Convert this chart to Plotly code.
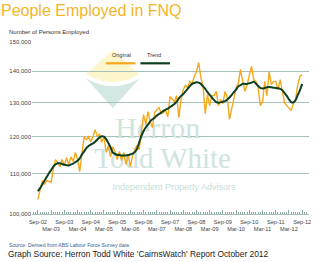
import math
import plotly.graph_objects as go

# ---------------- data ----------------
# monthly observations, Sep-02 (index 0) .. Sep-12 (index 120), thousands of persons
original_k = [
    103.5, 105.9, 108.2, 107.2, 108.2, 108.0, 107.7, 111.1, 113.7, 112.9,
    111.8, 113.7, 112.1, 114.2, 112.4, 114.4, 113.2, 115.6, 113.7, 110.5,
    115.6, 120.0, 119.2, 120.0, 118.6, 120.0, 122.0, 120.0, 120.8, 118.4,
    120.0, 115.6, 117.5, 114.4, 117.2, 115.9, 113.7, 115.9, 113.4, 115.6,
    112.4, 115.1, 111.8, 114.8, 116.4, 117.5, 116.4, 120.6, 126.4, 123.5,
    127.3, 124.4, 122.6, 127.0, 127.9, 128.5, 126.7, 127.0, 127.6, 125.8,
    131.9, 131.0, 130.3, 132.2, 125.5, 131.0, 134.1, 135.4, 134.7, 136.7,
    136.0, 138.3, 139.9, 142.9, 138.0, 135.1, 126.7, 132.5, 129.1, 132.2,
    132.2, 133.5, 129.1, 131.0, 129.7, 133.5, 131.6, 125.0, 128.5, 132.2,
    134.7, 136.0, 140.6, 136.7, 133.5, 135.7, 138.9, 141.6, 137.3, 136.7,
    134.7, 129.1, 130.3, 136.7, 132.2, 139.9, 135.7, 136.7, 136.7, 134.1,
    137.3, 134.1, 130.0, 129.1, 128.2, 127.6, 129.7, 131.0, 135.7, 138.3,
    138.9,
]
trend_k = [
    105.5, 106.3, 107.2, 108.2, 109.1, 110.1, 110.9, 111.8, 112.4, 112.7,
    112.7, 112.5, 112.3, 112.2, 112.1, 112.4, 112.6, 113.0, 113.4, 114.0,
    115.1, 115.9, 116.8, 117.4, 117.8, 118.1, 118.6, 119.2, 119.8, 120.1,
    120.0, 119.3, 118.2, 117.0, 115.6, 115.2, 115.0, 114.9, 114.8, 114.8,
    114.8, 114.9, 115.1, 115.3, 115.7, 116.6, 118.4, 120.2, 121.6, 122.7,
    123.5, 124.4, 125.0, 125.5, 126.1, 126.6, 127.0, 127.5, 127.9, 128.2,
    128.7, 129.1, 129.6, 130.3, 131.3, 132.1, 132.7, 133.5, 134.3, 135.2,
    135.9, 136.2, 136.4, 136.3, 135.9, 135.1, 134.3, 133.3, 132.4, 131.6,
    130.8, 130.2, 130.0, 130.1, 130.3, 130.5, 131.0, 131.6, 132.4, 133.3,
    134.1, 135.1, 135.5, 135.9, 135.9, 135.9, 136.1, 136.3, 136.6, 136.0,
    135.2, 134.6, 134.4, 134.6, 134.8, 134.9, 134.8, 134.7, 134.6, 134.5,
    134.3, 133.9, 133.0, 132.1, 131.0, 130.2, 130.1, 130.8, 132.4, 133.9,
    135.9,
]
month_index = list(range(len(original_k)))
tick_labels = [
    "Sep-02", "Mar-03", "Sep-03", "Mar-04", "Sep-04", "Mar-05", "Sep-05",
    "Mar-06", "Sep-06", "Mar-07", "Sep-07", "Mar-08", "Sep-08", "Mar-09",
    "Sep-09", "Mar-10", "Sep-10", "Mar-11", "Sep-11", "Mar-12", "Sep-12",
]
tick_months = [6 * i for i in range(len(tick_labels))]
y_ticks = [100000, 110000, 120000, 130000, 140000, 150000]
y_tick_text = ["100,000", "110,000", "120,000", "130,000", "140,000", "150,000"]

original = [v * 1000 for v in original_k]
trend = [v * 1000 for v in trend_k]

# ---------------- layout geometry ----------------
W, H = 320, 262
ML, MR, MT, MB = 30, 9, 42, 48
PW, PH = W - ML - MR, H - MT - MB
XR = [-2.68, 123.1]
YR = [5.0, math.log10(150000)]

ORANGE = "#f5a81b"
GREEN = "#0b4020"
GRID = "#a6c1bc"
TEAL_WM = "#cfe4df"


def px(x):  # pixel -> paper x
    return (x - ML) / PW


def py(y):  # pixel -> paper y
    return (H - MB - y) / PH


def dx(x):  # pixel -> data x
    return XR[0] + px(x) * (XR[1] - XR[0])


def dy(y):  # pixel -> data y (log axis)
    return 10 ** (YR[0] + py(y) * (YR[1] - YR[0]))


fig = go.Figure()

# watermark text (drawn first so the series sit on top of it)
fig.add_trace(go.Scatter(
    x=[dx(157.5), dx(162.5)], y=[dy(130), dy(161)],
    text=["Herron", "Todd White"], mode="text",
    textfont=dict(family="Liberation Serif, Times New Roman, serif", size=[30, 29], color=TEAL_WM),
    hoverinfo="skip", showlegend=False,
))
fig.add_trace(go.Scatter(
    x=[dx(174)], y=[dy(188)], text=["Independent Property Advisors"], mode="text",
    textfont=dict(family="Liberation Sans, Arial, sans-serif", size=9, color="#c6ddd8"),
    hoverinfo="skip", showlegend=False,
))

fig.add_trace(go.Scatter(
    x=month_index, y=original, mode="lines", name="Original",
    line=dict(color=ORANGE, width=1.4), showlegend=False,
))
fig.add_trace(go.Scatter(
    x=month_index, y=trend, mode="lines", name="Trend",
    line=dict(color=GREEN, width=2, shape="spline", smoothing=0.6), showlegend=False,
))

shapes = [
    # logo: yellow fan and teal diamond half
    dict(type="path", xref="paper", yref="paper", layer="below", line=dict(width=0),
         fillcolor="#fdf6cc",
         path=f"M{px(112):.5f},{py(50):.5f} L{px(85):.5f},{py(74):.5f} "
              f"Q{px(112):.5f},{py(90):.5f} {px(139):.5f},{py(74):.5f} Z"),
    dict(type="path", xref="paper", yref="paper", layer="below", line=dict(width=0),
         fillcolor="#d3e7e3",
         path=f"M{px(85):.5f},{py(78.5):.5f} Q{px(112):.5f},{py(94):.5f} {px(139):.5f},{py(78.5):.5f} "
              f"L{px(112):.5f},{py(108):.5f} Z"),
    # legend swatches
    dict(type="line", xref="paper", yref="paper", x0=px(105), x1=px(135), y0=py(63.3), y1=py(63.3),
         line=dict(color=ORANGE, width=2.2)),
    dict(type="line", xref="paper", yref="paper", x0=px(140), x1=px(170), y0=py(63.3), y1=py(63.3),
         line=dict(color=GREEN, width=2.2)),
]

annotations = [
    dict(text="Number of Persons Employed", x=px(5), y=py(32), xref="paper", yref="paper",
         showarrow=False, xanchor="left", yanchor="middle", font=dict(size=6, color="#333")),
    dict(text="Original", x=px(121), y=py(54.5), xref="paper", yref="paper", showarrow=False,
         xanchor="center", yanchor="middle", font=dict(size=5.5, color="#333")),
    dict(text="Trend", x=px(153.5), y=py(54.5), xref="paper", yref="paper", showarrow=False,
         xanchor="center", yanchor="middle", font=dict(size=5.5, color="#333")),
    dict(text="Source: Derived from ABS Labour Force Survey data", x=px(5), y=py(245),
         xref="paper", yref="paper", showarrow=False, xanchor="left", yanchor="middle",
         font=dict(size=5.1, color="#2e6296")),
    dict(text="Graph Source: Herron Todd White 'CairnsWatch' Report October 2012", x=px(4), y=py(254),
         xref="paper", yref="paper", showarrow=False, xanchor="left", yanchor="middle",
         font=dict(size=8.4, color="#222")),
]

tick_text = [("<br>" + t) if t.startswith("Mar") else t for t in tick_labels]

fig.update_layout(
    width=W, height=H,
    margin=dict(l=ML, r=MR, t=MT, b=MB, pad=0),
    paper_bgcolor="white", plot_bgcolor="white",
    font=dict(family="Liberation Sans, Arial, sans-serif", size=6, color="#444"),
    title=dict(text="People Employed in FNQ", x=1 / W, xref="container", xanchor="left",
               y=1 - 10.5 / H, yref="container", yanchor="middle",
               font=dict(size=16, color="#f4b52a", family="Liberation Sans, Arial, sans-serif")),
    shapes=shapes, annotations=annotations,
    xaxis=dict(range=XR, tickvals=tick_months, ticktext=tick_text, tickangle=0,
               showgrid=False, zeroline=False,
               showline=True, linecolor=GRID, linewidth=1,
               ticks="inside", ticklen=4, tickcolor="#8aa8a3", tickwidth=1,
               ticklabelstandoff=2,
               minor=dict(ticks="inside", ticklen=2, dtick=1, tick0=0, tickcolor="#8aa8a3", showgrid=False),
               tickfont=dict(size=5.6, color="#444")),
    yaxis=dict(type="log", range=YR, tickvals=y_ticks, ticktext=y_tick_text, showgrid=True,
               gridcolor=GRID, gridwidth=1, zeroline=False, showline=False, ticks="",
               tickfont=dict(size=6, color="#444")),
    showlegend=False,
)

fig.write_html("out.html")
